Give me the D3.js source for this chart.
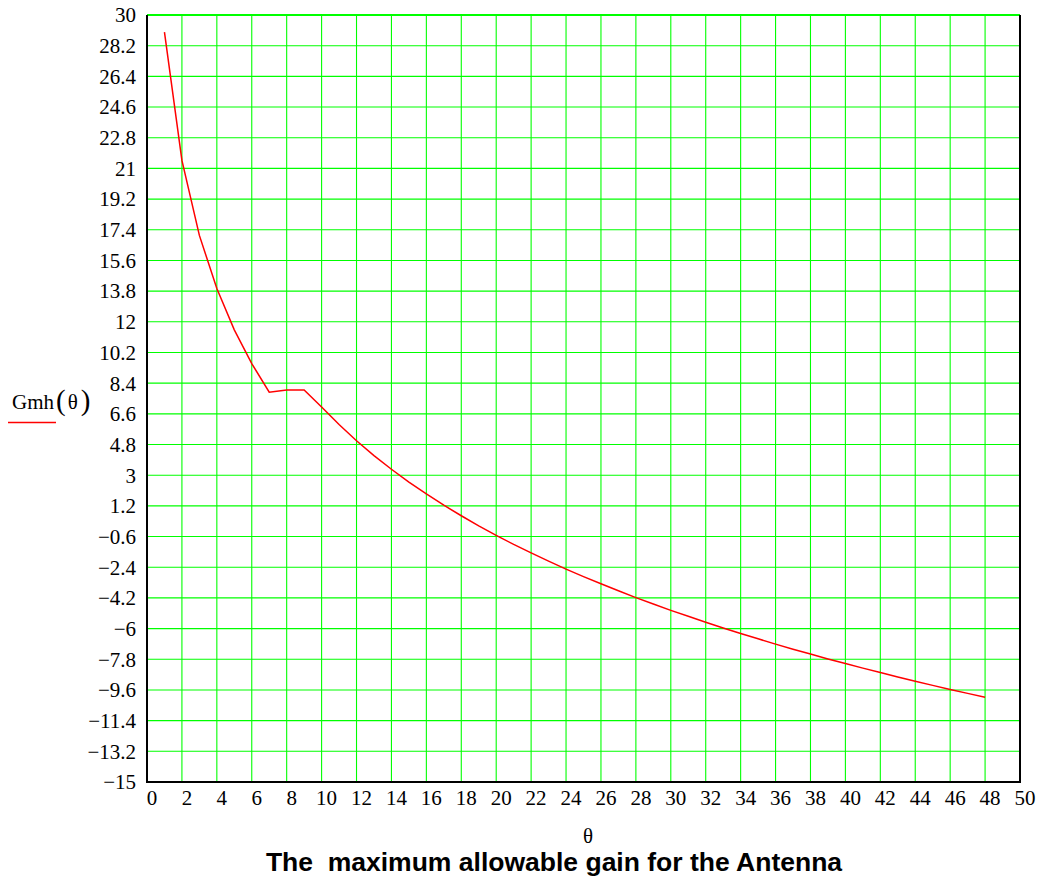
<!DOCTYPE html>
<html>
<head>
<meta charset="utf-8">
<script src="https://cdn.jsdelivr.net/npm/d3@7"></script>
<style>
  body { margin: 0; background: #fff; }
  svg { display: block; }
</style>
</head>
<body>
<div id="chart"><svg></svg></div>
<script>
// theta values (deg) and gain
const theta = [1, 2, 3, 4, 5, 6, 7, 8, 9, 10, 11, 12, 13, 14, 15, 16, 17, 18, 19, 20,
  21, 22, 23, 24, 25, 26, 27, 28, 29, 30, 31, 32, 33, 34, 35, 36, 37, 38, 39, 40,
  41, 42, 43, 44, 45, 46, 47, 48];
const gmh = [29.0, 21.47, 17.07, 13.95, 11.53, 9.55, 7.87, 8.0, 8.0, 7.0,
  5.97, 5.02, 4.15, 3.35, 2.60, 1.90, 1.24, 0.62, 0.03, -0.53,
  -1.06, -1.56, -2.04, -2.51, -2.95, -3.37, -3.78, -4.18, -4.56, -4.93,
  -5.28, -5.63, -5.96, -6.29, -6.60, -6.91, -7.21, -7.49, -7.78, -8.05,
  -8.32, -8.58, -8.84, -9.09, -9.33, -9.57, -9.80, -10.03];
const xTicks = d3.range(0, 51, 2);
const yTicks = d3.range(0, 26).map(i => +(30 - i * 1.8).toFixed(1));

const W = 1039, H = 882;
const pL = 147, pR = 1020, pT = 15, pB = 782;

const svg = d3.select("#chart svg").attr("width", W).attr("height", H);

const x = d3.scaleLinear().domain([0, 50]).range([pL, pR]);
const y = d3.scaleLinear().domain([-15, 30]).range([pB, pT]);

const fmt = v => (v < 0 ? "\u2212" : "") + Math.abs(v);

// grid
const grid = svg.append("g");
grid.selectAll("line.v")
  .data(xTicks.filter(d => d > 0 && d < 50))
  .join("line")
  .attr("class", "v")
  .attr("x1", d => x(d)).attr("x2", d => x(d))
  .attr("y1", pT).attr("y2", pB)
  .attr("stroke", "#00ff00").attr("stroke-width", 1.1);
grid.selectAll("line.h")
  .data(yTicks.filter(d => d > -15))
  .join("line")
  .attr("class", "h")
  .attr("x1", pL).attr("x2", pR)
  .attr("y1", d => y(d)).attr("y2", d => y(d))
  .attr("stroke", "#00ff00").attr("stroke-width", d => d === 30 ? 2 : 1.1);

// frame: left, bottom, right in black
svg.append("path")
  .attr("d", `M${pL},${pT} V${pB} H${pR} V${pT}`)
  .attr("fill", "none").attr("stroke", "#000").attr("stroke-width", 2);

// curve
svg.append("path")
  .datum(theta.map((t, i) => [t, gmh[i]]))
  .attr("d", d3.line().x(d => x(d[0])).y(d => y(d[1])))
  .attr("fill", "none").attr("stroke", "#ff0000").attr("stroke-width", 1.5);

// tick labels
svg.append("g").selectAll("text")
  .data(yTicks)
  .join("text")
  .attr("x", 136).attr("y", d => y(d))
  .attr("dy", "0.35em")
  .attr("text-anchor", "end")
  .style("font", "21px 'Liberation Serif', 'Times New Roman', serif")
  .text(fmt);

svg.append("g").selectAll("text")
  .data(xTicks)
  .join("text")
  .attr("x", d => x(d) + 5).attr("y", 798)
  .attr("dy", "0.35em")
  .attr("text-anchor", "middle")
  .style("font", "21px 'Liberation Serif', 'Times New Roman', serif")
  .text(d => d);

// axis names
svg.append("text")
  .attr("x", 588).attr("y", 837).attr("dy", "0.3em")
  .attr("text-anchor", "middle")
  .style("font", "21px 'Liberation Serif', serif")
  .text("\u03b8");

const yl = svg.append("text")
  .attr("x", 12).attr("y", 409)
  .style("font", "21px 'Liberation Serif', serif");
yl.append("tspan").text("Gmh");
yl.append("tspan").style("font-size", "29px").attr("dx", 2).attr("dy", 1).text("(");
yl.append("tspan").attr("dx", 2).attr("dy", -1).text("\u03b8");
yl.append("tspan").style("font-size", "29px").attr("dx", 3).attr("dy", 1).text(")");

svg.append("line")
  .attr("x1", 8).attr("x2", 56).attr("y1", 422.5).attr("y2", 422.5)
  .attr("stroke", "#ff0000").attr("stroke-width", 1.5);

// title
svg.append("text")
  .attr("x", 554).attr("y", 871)
  .attr("text-anchor", "middle")
  .style("font", "bold 26.5px 'Liberation Sans', Arial, sans-serif")
  .style("white-space", "pre")
  .text("The  maximum allowable gain for the Antenna");
</script>
</body>
</html>
